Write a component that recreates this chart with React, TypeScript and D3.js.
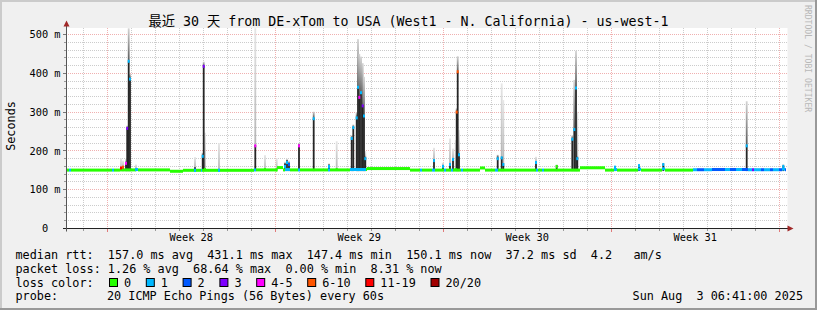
import React from "react";
import * as d3 from "d3";

// ---- time frame (last 30 days, 1 px ≈ 1 hour) ----
const END_MS = Date.UTC(2025, 7, 3, 6, 41, 0);
const START_MS = END_MS - 30 * 24 * 3600 * 1000;
const HOUR_MS = 3600 * 1000;

// ---- axis values ----
const yTickValues = [0, 100, 200, 300, 400, 500];
const yTickLabels = ["0", "100 m", "200 m", "300 m", "400 m", "500 m"];
const yMinorStep = 20;

// ---- loss colour legend ----
const lossLabels = ["0", "1", "2", "3", "4-5", "6-10", "11-19", "20/20"];
const lossColors = ["#26ff00", "#00b8ff", "#0059ff", "#7e00ff", "#ff00ff", "#ff5500", "#ff0000", "#a10000"];

// ---- median rtt baseline: [hour from start, ms, loss class] (step until next) ----
const medianSteps: [number, number, number][] = [
  [0, 150.5, 0], [3, 150.5, 1], [5, 150.5, 0], [46, 150.5, 1], [48, 150.5, 0],
  [54, 151, 0], [70, 152, 1], [72, 151, 0], [104, 147.5, 0], [117, 150, 0],
  [128, 150, 1], [130, 150, 0], [135, 150, 1], [136, 150, 0], [152, 150, 1], [154, 150, 0],
  [188, 151, 1], [190, 151, 0], [211, 157, 0], [217, 151, 0], [219, 152, 1], [224, 151, 0],
  [232, 151, 1], [234, 151, 0], [262, 151, 1], [264, 151, 0], [284, 152, 1], [300, 152, 0],
  [301, 154.5, 0], [344, 150.5, 0], [354, 150.5, 1], [356, 150.5, 0], [366, 150.5, 1], [369, 150.5, 0],
  [378, 150.5, 1], [380, 150.5, 0], [385, 150.5, 1], [387, 150.5, 0], [395, 150.5, 1], [397, 150.5, 0],
  [414, 156, 0], [419, 150.5, 0], [429, 150.5, 1], [432, 150.5, 0], [470, 150.5, 1], [472, 150.5, 0],
  [476, 150.5, 1], [478, 150.5, 0], [514, 156.5, 0], [539, 150.5, 0], [548, 152, 1], [551, 150.5, 0],
  [572, 153, 1], [575, 150.5, 0], [596, 154, 1], [599, 150.5, 0],
  [627, 151.5, 1], [631, 151.5, 2], [638, 151.5, 1], [646, 152, 2], [659, 152, 1], [664, 152, 2],
  [670, 152, 1], [676, 152, 2], [682, 151.5, 1], [686, 151.5, 3], [688, 151.5, 1], [695, 151.5, 2],
  [698, 151.5, 1], [704, 151.5, 2], [707, 151.5, 1], [713, 151.5, 2], [716, 153, 1], [719, 151.5, 2],
];

// ---- spikes: [hour, median ms, dark smoke top ms (0 = none), max ping ms, loss class, smoke tone (0 dark, 1 pale)] ----
const spikes: [number, number, number, number, number, number][] = [
  [55, 156, 0, 181, 6, 1], [57, 158, 160, 175, 5, 1], [60, 168, 172, 180, 4, 1],
  [61.2, 258, 258, 265, 3, 0], [62.7, 431, 432, 516, 1, 0], [64, 385, 387, 398, 1, 0],
  [70, 152, 155, 165, 1, 1], [129, 150, 158, 184, 1, 1], [136.7, 186, 189, 195, 1, 0],
  [137.7, 418, 419, 430, 3, 0], [139, 152, 0, 247, 0, 1], [153, 150, 0, 220, 1, 1],
  [189.3, 213, 215, 516, 4, 1], [199, 152, 0, 189, 0, 1], [210.7, 151, 0, 181, 0, 1],
  [219, 160, 168, 172, 1, 1], [221, 170, 176, 180, 1, 1], [223, 165, 170, 175, 2, 1],
  [233, 213, 215, 220, 4, 0], [247.7, 283, 286, 301, 1, 0], [263, 160, 165, 168, 1, 1],
  [270.7, 152, 0, 225, 0, 1], [285.7, 232, 235, 240, 1, 0], [287.3, 260, 262, 268, 1, 0],
  [290.7, 285, 288, 300, 1, 0], [292, 364, 365, 488, 1, 0], [293.3, 338, 340, 450, 4, 0],
  [295, 350, 352, 443, 1, 0], [296.7, 316, 318, 426, 3, 0], [298, 290, 292, 391, 1, 0],
  [299.3, 180, 185, 200, 1, 1], [368, 175, 178, 208, 1, 1], [377, 160, 163, 170, 1, 1],
  [384, 165, 168, 232, 1, 1], [387, 178, 181, 206, 1, 1], [389.7, 152, 0, 228, 0, 1],
  [390.7, 300, 301, 310, 5, 0], [391.7, 404, 404, 444, 5, 0], [393, 190, 194, 254, 1, 1],
  [431.7, 180, 185, 190, 1, 0], [435.7, 182, 185, 374, 1, 1], [437.3, 165, 168, 331, 1, 1],
  [470, 170, 172, 185, 1, 1], [490.7, 160, 163, 165, 0, 1], [506.3, 230, 232, 240, 1, 0],
  [508.3, 255, 258, 383, 1, 0], [510, 362, 365, 458, 1, 0], [511.3, 180, 185, 301, 1, 1],
  [549, 158, 160, 162, 1, 1], [573, 162, 164, 166, 1, 1], [597.3, 165, 167, 169, 1, 1],
  [680.7, 213, 215, 328, 1, 0], [717.3, 160, 162, 166, 1, 1],
];

const title = "最近 30 天 from DE-xTom to USA (West1 - N. California) - us-west-1";
const legendRow1 = "median rtt:  157.0 ms avg  431.1 ms max  147.4 ms min  150.1 ms now  37.2 ms sd  4.2   am/s";
const legendRow2 = "packet loss: 1.26 % avg  68.64 % max  0.00 % min  8.31 % now";
const legendRow3 = "loss color:";
const legendRow4a = "probe:";
const legendRow4b = "20 ICMP Echo Pings (56 Bytes) every 60s";
const dateText = "Sun Aug  3 06:41:00 2025";
const watermark = "RRDTOOL / TOBI OETIKER";
const yLabel = "Seconds";

const MONO = "'DejaVu Sans Mono', 'Noto Sans CJK SC', monospace";

export default function App() {
  const W = 817, H = 310;
  const plotLeft = 66, plotRight = 786, plotTop = 28, plotBottom = 228.5;
  const x = d3.scaleUtc().domain([new Date(START_MS), new Date(END_MS)]).range([plotLeft, plotRight]);
  const y = d3.scaleLinear().domain([0, 500]).range([plotBottom, 34.5]);
  const xh = (h: number) => x(new Date(START_MS + h * HOUR_MS));
  const crisp = (v: number) => Math.floor(v) + 0.5;

  const start = new Date(START_MS), end = new Date(END_MS);
  const weeks = d3.utcSunday.range(start, end);
  const weekSet = new Set(weeks.map((d) => +d));
  const days = d3.utcDay.range(start, end).filter((d) => !weekSet.has(+d));
  const weekLabels = d3.utcSunday
    .range(d3.utcDay.offset(start, -7), end)
    .map((s) => d3.utcHour.offset(s, 84))
    .filter((c) => c > start && c < end);
  const fmtWeek = d3.utcFormat("%V");

  const minorY = d3.range(yMinorStep, 520, yMinorStep).filter((v) => v % 100 !== 0 && y(v) >= plotTop);
  const majorY = yTickValues.filter((v) => v > 0);

  const legendCharW = 7.1;
  const boxX: number[] = [];
  lossLabels.forEach((l, i) => {
    boxX.push(i === 0 ? 109 : boxX[i - 1] + 29.7 + lossLabels[i - 1].length * legendCharW);
  });

  const stepEnd = (i: number) => (i + 1 < medianSteps.length ? medianSteps[i + 1][0] : 720);
  const barW = 1.8;

  return (
    <svg width={W} height={H} style={{ position: "absolute", left: 0, top: 0 }} fontFamily={MONO}>
      <defs>
        <linearGradient id="smoke" x1="0" y1="1" x2="0" y2="0">
          <stop offset="0" stopColor="#5a5a5a" />
          <stop offset="1" stopColor="#d4d4d4" />
        </linearGradient>
        <linearGradient id="smokeLight" x1="0" y1="1" x2="0" y2="0">
          <stop offset="0" stopColor="#b4b4b4" />
          <stop offset="1" stopColor="#e6e6e6" />
        </linearGradient>
      </defs>
      {/* background and 3D frame */}
      <rect x={0} y={0} width={W} height={H} fill="#f0f0f0" />
      <rect x={0} y={0} width={W} height={2} fill="#cbcbcb" />
      <rect x={0} y={0} width={2} height={H} fill="#cbcbcb" />
      <rect x={0} y={H - 2} width={W} height={2} fill="#999999" />
      <rect x={W - 2} y={0} width={2} height={H} fill="#999999" />
      {/* canvas */}
      <rect x={plotLeft} y={plotTop} width={plotRight - plotLeft + 1.5} height={plotBottom - plotTop} fill="#ffffff" />

      {/* grid */}
      <g strokeDasharray="1,1" strokeWidth={1}>
        {minorY.map((v) => (
          <line key={"my" + v} x1={plotLeft} x2={plotRight + 1} y1={crisp(y(v))} y2={crisp(y(v))} stroke="#cccccc" />
        ))}
        {days.map((d) => (
          <line key={"dx" + +d} x1={crisp(x(d))} x2={crisp(x(d))} y1={plotTop} y2={plotBottom} stroke="#cccccc" />
        ))}
        {majorY.map((v) => (
          <line key={"My" + v} x1={plotLeft} x2={plotRight + 1} y1={crisp(y(v))} y2={crisp(y(v))} stroke="#f0b0b0" />
        ))}
        {weeks.map((d) => (
          <line key={"wx" + +d} x1={crisp(x(d))} x2={crisp(x(d))} y1={plotTop} y2={plotBottom} stroke="#f0b0b0" />
        ))}
      </g>

      {/* smoke */}
      {spikes.map(([h, , dark, max, , tone], i) => {
        const from = dark > 0 ? dark : 150;
        return (
          <rect key={"s" + i} x={xh(h) - barW / 2} width={barW} y={y(max)} height={Math.max(0, y(from) - y(max))}
            fill={tone === 0 ? "url(#smoke)" : "url(#smokeLight)"} />
        );
      })}
      {spikes.filter((s) => s[2] > 0).map(([h, , dark], i) => (
        <rect key={"d" + i} x={xh(h) - barW / 2} width={barW} y={y(dark)} height={Math.max(1, y(148) - y(dark))} fill="#262626" />
      ))}

      {/* median line coloured by loss */}
      {medianSteps.map(([h, v, l], i) => (
        <rect key={"m" + i} x={xh(h)} width={xh(stepEnd(i)) - xh(h)} y={y(v) - 1.5} height={3} fill={lossColors[l]} />
      ))}
      {spikes.map(([h, med, , , l], i) => (
        <rect key={"mk" + i} x={xh(h) - 1} width={2} y={y(med) - 1.5} height={3} fill={lossColors[l]} />
      ))}

      {/* axes */}
      <g>
        {minorY.map((v) => (
          <line key={"ty" + v} x1={64} x2={66} y1={crisp(y(v))} y2={crisp(y(v))} stroke="#9a9a9a" />
        ))}
        {yTickValues.map((v) => (
          <line key={"tY" + v} x1={63} x2={66} y1={crisp(y(v))} y2={crisp(y(v))} stroke="#777" />
        ))}
        {days.map((d) => (
          <line key={"tx" + +d} x1={crisp(x(d))} x2={crisp(x(d))} y1={229} y2={231} stroke="#9a9a9a" />
        ))}
        {weeks.map((d) => (
          <line key={"tw" + +d} x1={crisp(x(d))} x2={crisp(x(d))} y1={229} y2={232} stroke="#e07a7a" />
        ))}
        <line x1={plotLeft - 3} x2={790} y1={crisp(plotBottom)} y2={crisp(plotBottom)} stroke="#222" />
        <line x1={66.5} x2={66.5} y1={plotBottom + 3} y2={22} stroke="#555" />
        <polygon points="787.5,225.5 793.5,228.5 787.5,231.5" fill="#a02828" />
        <polygon points="63.5,26.5 66.5,20.5 69.5,26.5" fill="#a02828" />
      </g>

      {/* y tick labels */}
      {yTickValues.map((v, i) => (
        <text key={"yl" + v} x={v === 0 ? 60.5 - 2 * 6.2 : 60.5} y={y(v) + 3.7} fontSize={10.3} textAnchor="end" fill="#000">
          {yTickLabels[i]}
        </text>
      ))}
      {/* week labels */}
      {weekLabels.map((c) => (
        <text key={"wl" + +c} x={x(c)} y={241} fontSize={10.3} textAnchor="middle" fill="#000">
          {"Week " + fmtWeek(c)}
        </text>
      ))}

      {/* y axis title */}
      <text transform="translate(15,126) rotate(-90)" fontSize={11.8} textAnchor="middle" fill="#000">{yLabel}</text>
      {/* title */}
      <text x={408.5} y={26} fontSize={13.3} textAnchor="middle" fill="#000">{title}</text>
      {/* watermark */}
      <text transform="translate(804.5,5) rotate(90)" fontSize={8.1} fill="#b8b8b8">{watermark}</text>

      {/* legend */}
      <g fontSize={11.8} fill="#000" style={{ whiteSpace: "pre" }}>
        <text x={15.5} y={258.5} xmlSpace="preserve">{legendRow1}</text>
        <text x={15.5} y={272.5} xmlSpace="preserve">{legendRow2}</text>
        <text x={15.5} y={286.5} xmlSpace="preserve">{legendRow3}</text>
        {lossLabels.map((l, i) => (
          <g key={"lg" + i}>
            <rect x={boxX[i] + 0.5} y={278.5} width={8} height={8} fill={lossColors[i]} stroke="#000" strokeWidth={1} />
            <text x={boxX[i] + 15} y={286.5}>{l}</text>
          </g>
        ))}
        <text x={15.5} y={300.3} xmlSpace="preserve">{legendRow4a}</text>
        <text x={107} y={300.3} xmlSpace="preserve">{legendRow4b}</text>
        <text x={803} y={300.3} textAnchor="end" xmlSpace="preserve">{dateText}</text>
      </g>
    </svg>
  );
}
